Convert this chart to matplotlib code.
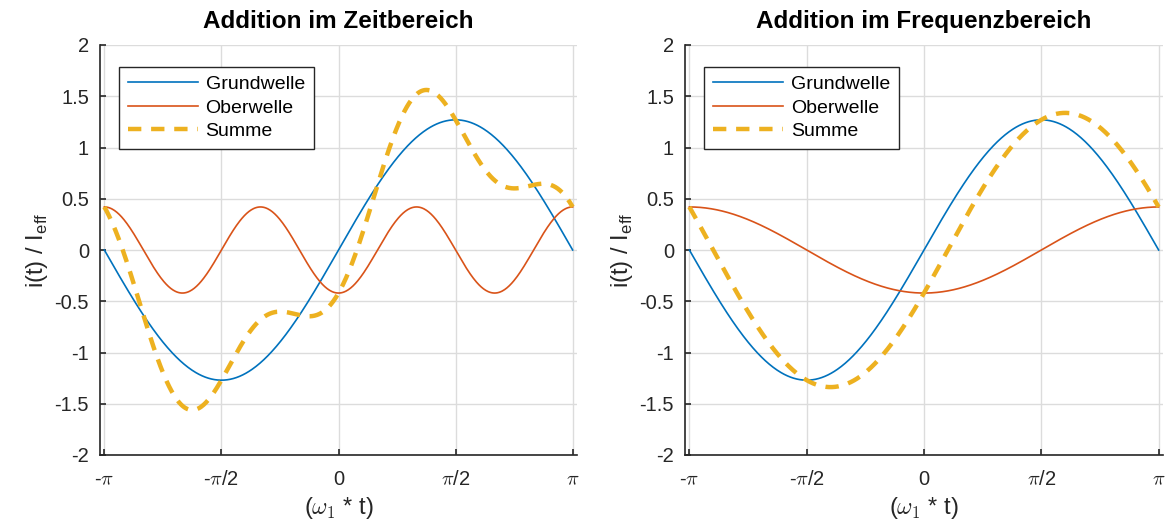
import numpy as np
import matplotlib.pyplot as plt

plt.rcParams['font.family'] = ['Liberation Sans', 'DejaVu Sans']
plt.rcParams['mathtext.fontset'] = 'cm'
plt.rcParams['axes.unicode_minus'] = False

# Werte
amp_grund = 1.27          # Amplitude Grundwelle
amp_ober = 0.42           # Amplitude Oberwelle
ordnung_zeit = 3          # Ordnung der Oberwelle (Zeitbereich)
ordnung_freq = 1          # gestreckt im Frequenzbereich
titles = ['Addition im Zeitbereich', 'Addition im Frequenzbereich']
labels = ['Grundwelle', 'Oberwelle', 'Summe']
xtick_labels = [r'-$\pi$', r'-$\pi$/2', '0', r'$\pi$/2', r'$\pi$']
yticks = [-2, -1.5, -1, -0.5, 0, 0.5, 1, 1.5, 2]

colors = ['#0072BD', '#D95319', '#EDB120']

x = np.linspace(-np.pi, np.pi, 600)
grund = amp_grund * np.sin(x)

fig = plt.figure(figsize=(11.69, 5.24), dpi=100)
W, H = 1169, 524
boxes = [(100, 45, 577, 455), (685, 45, 1163, 455)]

for i, (order, title) in enumerate(zip([ordnung_zeit, ordnung_freq], titles)):
    l, t, r, b = boxes[i]
    ax = fig.add_axes([l / W, 1 - b / H, (r - l) / W, (b - t) / H])
    ober = -amp_ober * np.cos(order * x)
    ax.plot(x, grund, color=colors[0], lw=1.2, label=labels[0])
    ax.plot(x, ober, color=colors[1], lw=1.2, label=labels[1])
    ax.plot(x, grund + ober, color=colors[2], lw=3.2, ls=(0, (3, 2.2)), label=labels[2])

    ax.set_xlim(-3.2, 3.2)
    ax.set_ylim(-2, 2)
    ax.set_xticks([-np.pi, -np.pi / 2, 0, np.pi / 2, np.pi])
    ax.set_xticklabels(xtick_labels)
    ax.set_yticks(yticks)
    ax.set_yticklabels(['%g' % v for v in yticks])
    ax.grid(True, color='#dcdcdc', lw=1)
    ax.set_axisbelow(True)
    for s in ['top', 'right']:
        ax.spines[s].set_visible(False)
    for s in ['left', 'bottom']:
        ax.spines[s].set_color('#262626')
        ax.spines[s].set_linewidth(1.2)
    ax.tick_params(direction='in', length=4, width=1.2, labelsize=14.5,
                   colors='#262626', pad=8)
    ax.tick_params(axis='x', pad=11)
    ax.set_title(title, fontsize=17.5, fontweight='bold', pad=12)
    ax.set_xlabel(r'($\omega_1$ * t)', fontsize=17, color='#262626', labelpad=4)
    ax.set_ylabel(r'i(t) / I$_\mathregular{eff}$', fontsize=17, color='#262626', labelpad=3)
    leg = ax.legend(loc='upper left', bbox_to_anchor=(0.04, 0.947), borderaxespad=0,
                    fontsize=14, fancybox=False, framealpha=1, edgecolor='#262626',
                    handlelength=3.6, labelspacing=0.3, borderpad=0.45, handletextpad=0.4)
    leg.get_frame().set_linewidth(1)

fig.savefig('out.png', dpi=100)
